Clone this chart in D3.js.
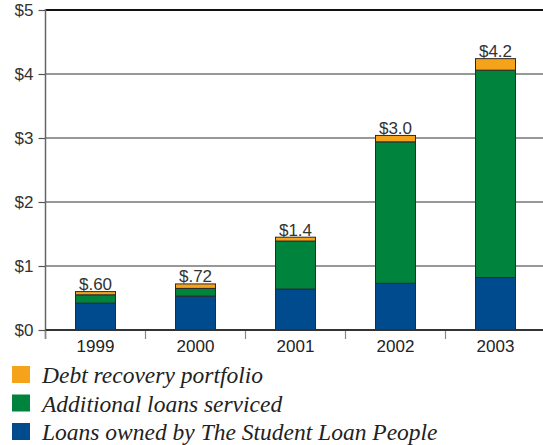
<!DOCTYPE html>
<html>
<head>
<meta charset="utf-8">
<script src="https://cdn.jsdelivr.net/npm/d3@7"></script>
<style>
  body { margin: 0; background: #fff; }
  .sans { font-family: "Liberation Sans", Arial; }
  .legend-text { font-family: "Liberation Serif", "Times New Roman"; font-style: italic; }
</style>
</head>
<body>
<div id="chart"></div>
<script>
// data
var years = ["1999", "2000", "2001", "2002", "2003"];
var owned = [0.42, 0.53, 0.64, 0.73, 0.82];
var serviced = [0.13, 0.12, 0.75, 2.21, 3.24];
var debt = [0.05, 0.07, 0.06, 0.10, 0.18];
var totalLabels = ["$.60", "$.72", "$1.4", "$3.0", "$4.2"];
var yTicks = [0, 1, 2, 3, 4, 5];
var seriesNames = ["Debt recovery portfolio", "Additional loans serviced", "Loans owned by The Student Loan People"];

var colors = { owned: "#004b8d", serviced: "#00843d", debt: "#f6a31c" };

// layout
var margin = {top: 10, right: 0, bottom: 115, left: 45.5},
    width = 500,
    height = 445 - margin.top - margin.bottom;

var root = d3.select("#chart")
  .append("svg")
    .attr("width", 543)
    .attr("height", 445);

var svg = root.append("g")
    .attr("transform", "translate(" + margin.left + "," + margin.top + ")");

var rows = years.map(function(y, i) {
  return {year: y, owned: owned[i], serviced: serviced[i], debt: debt[i], label: totalLabels[i]};
});

var x = d3.scaleBand()
  .domain(years)
  .range([0, width])
  .paddingInner(0.6)
  .paddingOuter(0.3);

var y = d3.scaleLinear()
  .domain([0, 5])
  .range([height, 0]);

// gridlines
svg.append("g")
  .selectAll("line")
  .data(yTicks.filter(function(d) { return d > 0 && d < 5; }))
  .join("line")
    .attr("x1", 0)
    .attr("x2", 510)
    .attr("y1", function(d) { return y(d); })
    .attr("y2", function(d) { return y(d); })
    .attr("stroke", "#333")
    .attr("stroke-width", 1.2);

// top border line
svg.append("line")
  .attr("x1", 0).attr("x2", 510)
  .attr("y1", y(5)).attr("y2", y(5))
  .attr("stroke", "#111")
  .attr("stroke-width", 2.2);

// y axis
var yAxis = svg.append("g")
  .call(d3.axisLeft(y).tickValues(yTicks).tickSize(7).tickPadding(5)
    .tickFormat(function(d) { return "$" + d; }));
yAxis.attr("font-family", null).attr("font-size", null);
yAxis.select(".domain").remove();
yAxis.selectAll("line").attr("stroke", "#555").attr("stroke-width", 1.2);
yAxis.selectAll("text")
  .attr("class", "sans")
  .style("font-size", "17px")
  .attr("fill", "#333");

svg.append("line")
  .attr("x1", 0).attr("x2", 0)
  .attr("y1", y(5) - 1).attr("y2", height + 9)
  .attr("stroke", "#666")
  .attr("stroke-width", 1.5);

// x ticks between bands
svg.append("g")
  .selectAll("line")
  .data(d3.range(0, years.length + 1))
  .join("line")
    .attr("x1", function(i) { return i * x.step(); })
    .attr("x2", function(i) { return i * x.step(); })
    .attr("y1", height)
    .attr("y2", height + 9)
    .attr("stroke", "#888")
    .attr("stroke-width", 1.2);

svg.append("g")
  .selectAll("text")
  .data(years)
  .join("text")
    .attr("class", "sans")
    .attr("x", function(d) { return x(d) + x.bandwidth() / 2; })
    .attr("y", height + 22)
    .attr("text-anchor", "middle")
    .style("font-size", "17px")
    .attr("fill", "#222")
    .text(function(d) { return d; });

// stacked bars
var stack = d3.stack().keys(["owned", "serviced", "debt"]);
var layers = stack(rows);

svg.append("g")
  .selectAll("g")
  .data(layers)
  .join("g")
    .attr("fill", function(d) { return colors[d.key]; })
  .selectAll("rect")
  .data(function(d) { return d; })
  .join("rect")
    .attr("x", function(d) { return x(d.data.year); })
    .attr("y", function(d) { return y(d[1]); })
    .attr("width", x.bandwidth())
    .attr("height", function(d) { return y(d[0]) - y(d[1]); })
    .attr("stroke", "#2a2a2a")
    .attr("stroke-width", 1);

// x axis baseline
svg.append("line")
  .attr("x1", 0).attr("x2", 510)
  .attr("y1", height).attr("y2", height)
  .attr("stroke", "#333")
  .attr("stroke-width", 2);

// total labels
svg.append("g")
  .selectAll("text")
  .data(rows)
  .join("text")
    .attr("class", "sans")
    .attr("x", function(d) { return x(d.year) + x.bandwidth() / 2; })
    .attr("y", function(d) { return y(d.owned + d.serviced + d.debt) - 1.5; })
    .attr("text-anchor", "middle")
    .style("font-size", "17px")
    .attr("fill", "#333")
    .text(function(d) { return d.label; });

// legend
var legendColors = [colors.debt, colors.serviced, colors.owned];
var legend = root.append("g")
  .selectAll("g")
  .data(seriesNames)
  .join("g")
    .attr("transform", function(d, i) { return "translate(12," + (366 + i * 28.5) + ")"; });

legend.append("rect")
  .attr("width", 18)
  .attr("height", 17)
  .attr("fill", function(d, i) { return legendColors[i]; });

legend.append("text")
  .attr("class", "legend-text")
  .attr("x", 30)
  .attr("y", 17)
  .style("font-size", "23.5px")
  .attr("fill", "#222")
  .text(function(d) { return d; });
</script>
</body>
</html>
